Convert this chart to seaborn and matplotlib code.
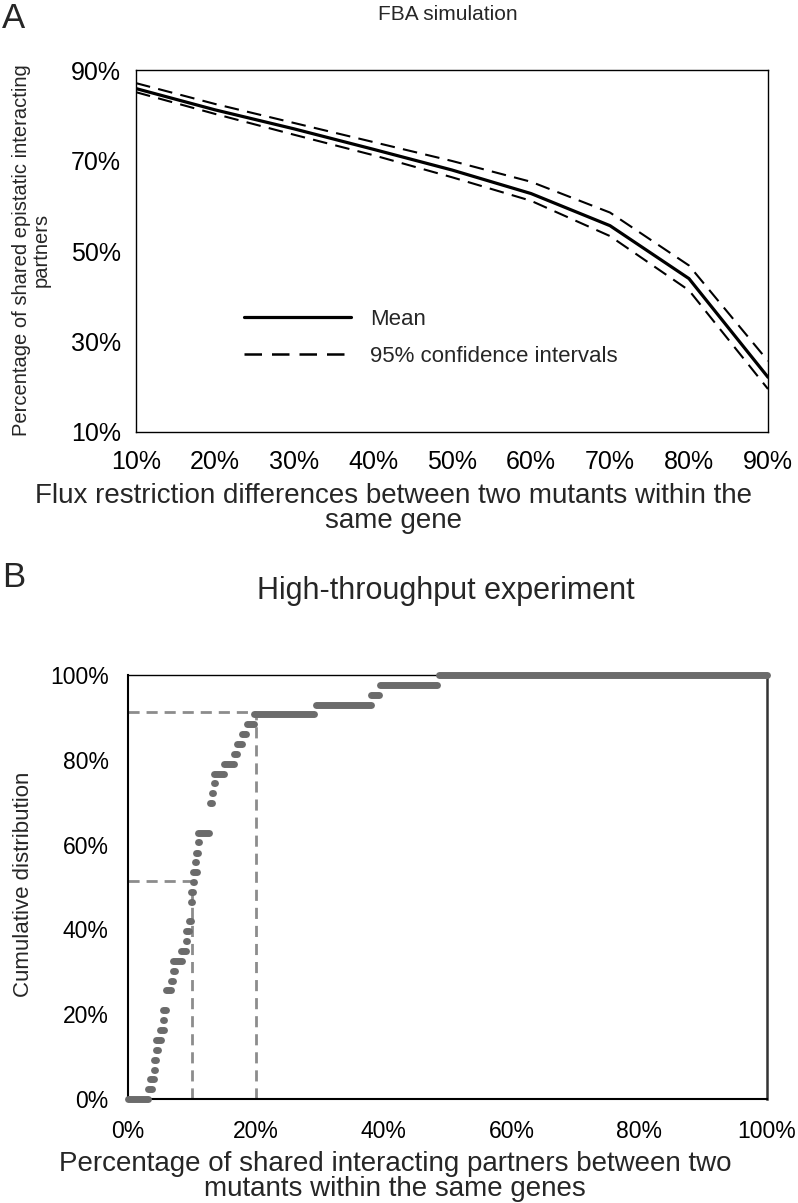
import numpy as np
import pandas as pd
import matplotlib
matplotlib.use("Agg")
import matplotlib.pyplot as plt
from matplotlib.lines import Line2D
import seaborn as sns

# ---- Panel A: FBA simulation ----
flux_diff = [10, 20, 30, 40, 50, 60, 70, 80, 90]
mean_shared = [85.9, 81.2, 77.0, 72.5, 67.9, 62.7, 55.6, 43.9, 22.1]
ci_upper = [87.1, 82.5, 78.3, 74.1, 69.9, 65.3, 58.5, 46.8, 25.7]
ci_lower = [85.1, 80.3, 75.7, 71.2, 66.3, 61.1, 53.3, 41.3, 19.5]
a_ticks = [10, 20, 30, 40, 50, 60, 70, 80, 90]
a_yticks = [10, 30, 50, 70, 90]

# ---- Panel B: cumulative distribution (one step per level) ----
cdf_level = [0.0, 2.3, 4.6, 6.9, 9.3, 11.6, 14.0, 16.3, 18.6, 20.9,
             25.6, 27.9, 30.2, 32.6, 34.9, 37.2, 39.5, 41.9, 46.5, 48.8,
             51.2, 53.5, 55.8, 58.1, 60.5, 62.8, 65.1, 69.8, 72.1, 74.4,
             76.7, 79.1, 81.4, 83.7, 86.0, 88.4, 90.7, 93.0, 95.3, 97.7, 100.0]
step_start = [0.0, 3.1, 3.5, 4.0, 4.1, 4.4, 4.4, 5.0, 5.5, 5.5,
              6.0, 6.7, 7.1, 7.1, 8.3, 9.1, 9.1, 9.6, 9.8, 9.8,
              10.1, 10.1, 10.5, 10.7, 11.0, 11.0, 12.8, 12.8, 13.2, 13.5,
              13.5, 15.0, 16.6, 17.0, 17.9, 18.6, 19.7, 29.4, 38.0, 39.5, 48.6]
step_end = [3.1, 3.7, 4.0, 4.2, 4.4, 4.7, 5.2, 5.6, 5.7, 6.0,
            6.7, 7.1, 7.4, 8.4, 9.1, 9.3, 9.5, 9.8, 10.0, 10.1,
            10.3, 10.8, 10.7, 10.9, 11.1, 12.6, 12.9, 13.2, 13.3, 13.6,
            15.1, 16.6, 17.1, 17.8, 18.5, 19.7, 29.1, 38.0, 39.3, 48.4, 100.0]
b_ticks = [0, 20, 40, 60, 80, 100]
# reference guides: (x, cumulative %) pairs
guide_x = [10, 20]
guide_y = [51.4, 91.3]

sns.set_theme(style="white")
plt.rcParams["font.family"] = ["Liberation Sans", "DejaVu Sans"]

fig = plt.figure(figsize=(7.98, 12.03), dpi=100)
axA = fig.add_axes([0.1704, 0.6409, 0.792, 0.3009])
axB = fig.add_axes([0.1604, 0.0865, 0.8008, 0.3525])

dash = (0, (7, 4))
dfA = pd.DataFrame({"x": flux_diff, "mean": mean_shared,
                    "upper": ci_upper, "lower": ci_lower})
sns.lineplot(data=dfA, x="x", y="upper", ax=axA, color="black", lw=1.5,
             linestyle=dash)
sns.lineplot(data=dfA, x="x", y="lower", ax=axA, color="black", lw=1.5,
             linestyle=dash)
sns.lineplot(data=dfA, x="x", y="mean", ax=axA, color="black", lw=2.3)

axA.set_xlim(10, 90)
axA.set_ylim(10, 90)
axA.set_xticks(a_ticks)
axA.set_xticklabels([f"{t}%" for t in a_ticks])
axA.set_yticks(a_yticks)
axA.set_yticklabels([f"{t}%" for t in a_yticks])
axA.tick_params(axis="both", direction="in", length=5, width=0.8,
                color="#888888", labelsize=18, labelcolor="black")
axA.tick_params(axis="x", pad=13)
axA.tick_params(axis="y", pad=11)
for s in axA.spines.values():
    s.set_color("black")
    s.set_linewidth(1.0)
axA.set_xlabel("Flux restriction differences between two mutants within the\nsame gene",
               fontsize=20, linespacing=0.95, va="center")
axA.xaxis.set_label_coords(0.408, -0.21)
axA.set_ylabel("Percentage of shared epistatic interacting\npartners",
               fontsize=14.5, linespacing=1.05, va="center")
axA.yaxis.set_label_coords(-0.165, 0.503)

handles = [Line2D([], [], color="black", lw=2.3),
           Line2D([], [], color="black", lw=1.8, linestyle=dash)]
axA.legend(handles, ["Mean", "95% confidence intervals"], frameon=False,
           fontsize=16, handlelength=4.8, handletextpad=0.85,
           labelspacing=0.7, loc="center left", bbox_to_anchor=(0.14, 0.26))

# Panel B
rows = []
for lvl, x0, x1 in zip(cdf_level, step_start, step_end):
    rows.append({"level": lvl, "x": x0, "y": lvl})
    rows.append({"level": lvl, "x": x1, "y": lvl})
dfB = pd.DataFrame(rows)

gcol = "#8c8c8c"
gdash = (0, (4, 2.5))
for gx, gy in zip(guide_x, guide_y):
    axB.plot([0, gx], [gy, gy], color=gcol, lw=2.0, linestyle=gdash, zorder=1)
    axB.plot([gx, gx], [0, gy], color=gcol, lw=2.0, linestyle=gdash, zorder=1)

sns.lineplot(data=dfB, x="x", y="y", units="level", estimator=None, ax=axB,
             color="#6b6b6b", lw=5.0, solid_capstyle="round", clip_on=False,
             zorder=3)

axB.set_xlim(0, 100)
axB.set_ylim(0, 100)
axB.set_xticks(b_ticks)
axB.set_xticklabels([f"{t}%" for t in b_ticks])
axB.set_yticks(b_ticks)
axB.set_yticklabels([f"{t}%" for t in b_ticks])
axB.tick_params(axis="both", direction="in", length=5, width=0.8,
                color="#aaaaaa", labelsize=16.5, labelcolor="black")
axB.tick_params(axis="x", pad=15)
axB.tick_params(axis="y", pad=14)
axB.spines["left"].set_linewidth(1.5)
axB.spines["bottom"].set_linewidth(1.5)
axB.spines["top"].set_linewidth(1.0)
axB.spines["right"].set_linewidth(1.8)
for s in ["left", "bottom", "top"]:
    axB.spines[s].set_color("black")
axB.spines["right"].set_color("#333333")
axB.set_xlabel("Percentage of shared interacting partners between two\nmutants within the same genes",
               fontsize=20, linespacing=0.95, va="center")
axB.xaxis.set_label_coords(0.418, -0.184)
axB.set_ylabel("Cumulative distribution", fontsize=16, va="center")
axB.yaxis.set_label_coords(-0.164, 0.505)

fig.text(448 / 798, 1 - 14 / 1203, "FBA simulation", ha="center", va="center",
         fontsize=15)
fig.text(446 / 798, 1 - 591 / 1203, "High-throughput experiment", ha="center",
         va="center", fontsize=22)
fig.text(2 / 798, 1 - 19 / 1203, "A", ha="left", va="center", fontsize=25)
fig.text(2 / 798, 1 - 577 / 1203, "B", ha="left", va="center", fontsize=25)

fig.savefig("out.png", dpi=100)
